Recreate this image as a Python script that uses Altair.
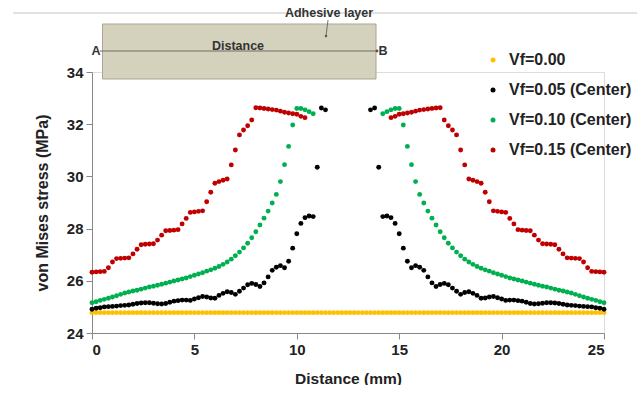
import altair as alt
import pandas as pd

# Left half (0 .. centre) readings at 0.2 mm spacing; the profile is symmetric about 12.5 mm
step = 0.2
vf000 = [24.78] * 126  # flat across whole 0-25 mm
vf005_left = [24.91, 24.95, 24.97, 25.00, 25.01, 25.02, 25.03, 25.05, 25.06, 25.07,
              25.10, 25.13, 25.15, 25.16, 25.16, 25.14, 25.12, 25.11, 25.13, 25.18,
              25.22, 25.24, 25.26, 25.26, 25.25, 25.30, 25.35, 25.40, 25.38, 25.34,
              25.33, 25.44, 25.52, 25.58, 25.55, 25.48, 25.60, 25.72, 25.85, 25.90,
              25.86, 25.78, 25.92, 26.15, 26.40, 26.52, 26.58, 26.50, 26.75, 27.25,
              27.80, 28.20, 28.42, 28.48, 28.46, 30.35, 32.62, 32.55]
vf010_left = [25.16, 25.20, 25.25, 25.29, 25.33, 25.38, 25.43, 25.48, 25.53, 25.57,
              25.61, 25.64, 25.68, 25.72, 25.76, 25.79, 25.83, 25.87, 25.91, 25.95,
              25.99, 26.03, 26.07, 26.11, 26.16, 26.21, 26.26, 26.31, 26.37, 26.42,
              26.48, 26.55, 26.63, 26.72, 26.83, 26.96, 27.10, 27.26, 27.44, 27.65,
              27.88, 28.14, 28.40, 28.67, 28.98, 29.31, 29.80, 30.45, 31.15, 31.97,
              32.60, 32.60, 32.55, 32.48, 32.40]
vf015_left = [26.33, 26.34, 26.35, 26.36, 26.50, 26.72, 26.85, 26.86, 26.87, 26.88,
              27.03, 27.21, 27.38, 27.40, 27.41, 27.42, 27.56, 27.75, 27.92, 27.93,
              27.94, 27.96, 28.18, 28.39, 28.62, 28.64, 28.66, 28.68, 29.03, 29.39,
              29.74, 29.80, 29.85, 29.90, 30.44, 31.01, 31.59, 31.78, 31.94, 32.16,
              32.63, 32.62, 32.60, 32.58, 32.56, 32.54, 32.50, 32.46, 32.43, 32.40,
              32.38, 32.30, 32.25]

names = ["Vf=0.00", "Vf=0.05 (Center)", "Vf=0.10 (Center)", "Vf=0.15 (Center)"]
colors = ["#FFC000", "#000000", "#00B050", "#C00000"]
x_ticks = [0, 5, 10, 15, 20, 25]
y_ticks = [24, 26, 28, 30, 32, 34]

rows = []
for i, v in enumerate(vf000):
    rows.append({"x": round(i * step, 2), "y": v, "s": names[0]})
for name, vals in zip(names[1:], [vf005_left, vf010_left, vf015_left]):
    for i, v in enumerate(vals):
        xl = round(i * step, 2)
        rows.append({"x": xl, "y": v, "s": name})
        rows.append({"x": round(25 - xl, 2), "y": v, "s": name})
df = pd.DataFrame(rows)

FONT = "Liberation Sans"

points = alt.Chart(df).mark_circle(size=24, opacity=1).encode(
    x=alt.X("x:Q", scale=alt.Scale(domain=[0, 25], nice=False),
            axis=alt.Axis(values=x_ticks, title="Distance (mm)", grid=False,
                          tickSize=6, labelPadding=3, titlePadding=14,
                          labelFontSize=15, labelFontWeight="bold", labelFont=FONT,
                          titleFontSize=15.5, titleFontWeight="bold", titleFont=FONT,
                          domainColor="#888", tickColor="#888",
                          labelColor="#222", titleColor="#222")),
    y=alt.Y("y:Q", scale=alt.Scale(domain=[24, 34], nice=False, zero=False),
            axis=alt.Axis(values=y_ticks, title="von Mises stress (MPa)", grid=False,
                          tickSize=6, labelPadding=3, titlePadding=16,
                          labelFontSize=15, labelFontWeight="bold", labelFont=FONT,
                          titleFontSize=16, titleFontWeight="bold", titleFont=FONT,
                          domainColor="#888", tickColor="#888",
                          labelColor="#222", titleColor="#222")),
    color=alt.Color("s:N", scale=alt.Scale(domain=names, range=colors),
                    legend=alt.Legend(title=None, orient="none", legendX=393, legendY=-20,
                                      symbolType="circle", symbolSize=25, padding=0,
                                      labelFontSize=16, labelFontWeight="bold",
                                      labelFont=FONT, labelColor="#222",
                                      rowPadding=14, labelOffset=8)),
)

one = pd.DataFrame({"k": [0]})
base = alt.Chart(one)

top_line = base.mark_rule(color="#d9d9d9", strokeWidth=1.5).encode(
    x=alt.value(-79), x2=alt.value(545), y=alt.value(-59))
box = base.mark_rect(fill="#d4d2bc", stroke="#a9a795", strokeWidth=1).encode(
    x=alt.value(10.5), x2=alt.value(284), y=alt.value(-48), y2=alt.value(7))
ab_line = base.mark_rule(color="#6e6d60", strokeWidth=1).encode(
    x=alt.value(8), x2=alt.value(286), y=alt.value(-21))
b_dot = base.mark_circle(color="#555", size=8, opacity=1).encode(
    x=alt.value(285), y=alt.value(-21))
leader = base.mark_rule(color="#555", strokeWidth=0.8).encode(
    x=alt.value(236), x2=alt.value(234), y=alt.value(-52), y2=alt.value(-36))
leader_dot = base.mark_circle(color="#555", size=6, opacity=1).encode(
    x=alt.value(234), y=alt.value(-36))
txt_a = base.mark_text(text="A", font=FONT, fontSize=12.5, fontWeight="bold", color="#333").encode(
    x=alt.value(4), y=alt.value(-21))
txt_b = base.mark_text(text="B", font=FONT, fontSize=12.5, fontWeight="bold", color="#333").encode(
    x=alt.value(291), y=alt.value(-21))
txt_dist = base.mark_text(text="Distance", font=FONT, fontSize=12.5, fontWeight="bold", color="#333").encode(
    x=alt.value(146), y=alt.value(-26))
txt_adh = base.mark_text(text="Adhesive layer", font=FONT, fontSize=12.5, fontWeight="bold", color="#333").encode(
    x=alt.value(237), y=alt.value(-59))

chart = alt.layer(
    top_line, box, ab_line, b_dot, leader, leader_dot, txt_a, txt_b, txt_dist, txt_adh, points
).properties(
    width=512, height=261,
    autosize=alt.AutoSizeParams(type="none"),
    padding={"left": 92, "top": 72, "right": 35, "bottom": 52},
).configure_view(stroke=None).configure(background="white")

chart.save("out.html", embed_options={"renderer": "svg", "actions": False})
